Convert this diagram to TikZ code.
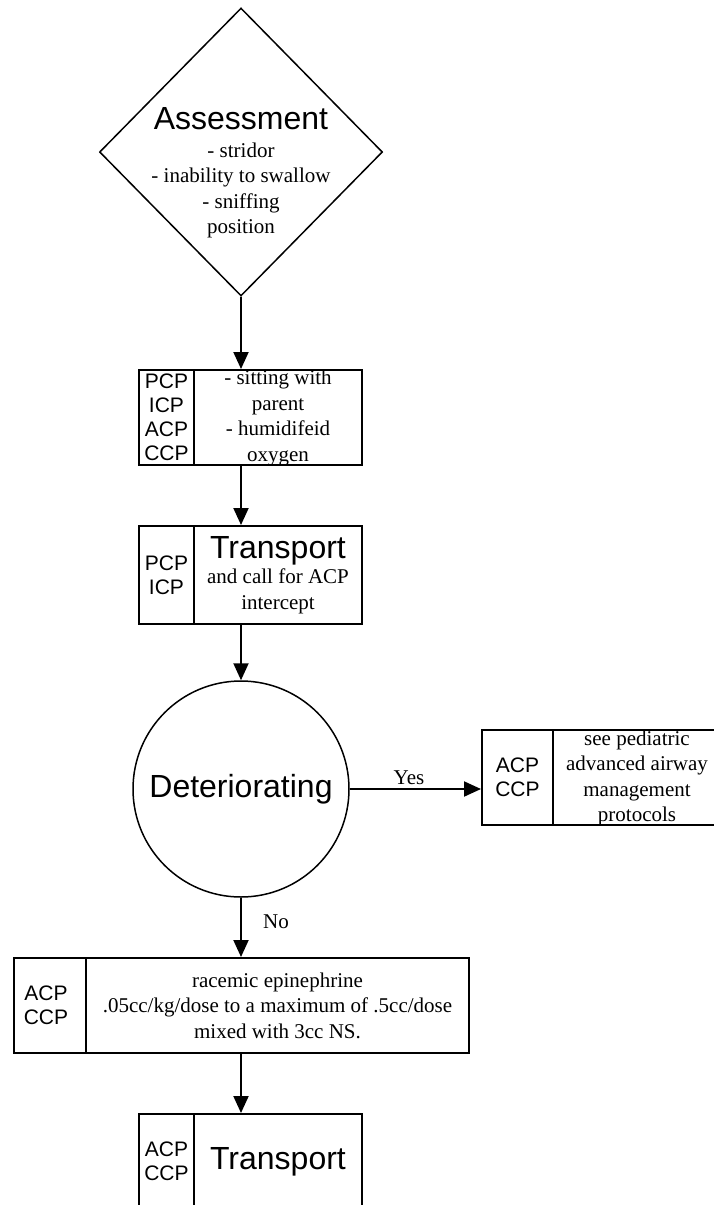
\documentclass[tikz,border=0pt]{standalone}
\usepackage{fontspec}
\setmainfont{Liberation Serif}
\setsansfont{Liberation Sans}
\usetikzlibrary{shapes.geometric,arrows.meta}
\newcommand\headfont{\sffamily\fontsize{32}{36}\selectfont}
\begin{document}
\begin{tikzpicture}[x=1pt,y=-1pt,
  body/.style={font=\fontsize{21}{25.5}\selectfont, align=center, inner sep=0pt},
  tag/.style={font=\sffamily\fontsize{21}{24}\selectfont, align=center, inner sep=0pt},
  cell/.style={draw, line width=2pt, inner sep=0pt, anchor=north west},
  flow/.style={line width=2pt, -{Triangle[length=17pt,width=15pt]}},
]
\useasboundingbox (0,0) rectangle (713,1205);

% assessment diamond
\node[draw, diamond, line width=1.5pt, minimum width=283pt, minimum height=288pt, inner sep=0pt] (assess) at (241,152) {};
\node[body] (assesstxt) at (241,172.8)
  {{\headfont Assessment}\\[2.5pt]- stridor\\- inability to swallow\\- sniffing\\position};

% first care box
\node[cell, minimum width=55pt, minimum height=95pt] (b1l) at (138,369) {};
\node[cell, minimum width=168pt, minimum height=95pt] (b1r) at (193,369) {};
\node[tag] (b1ltxt) at (b1l.center) {PCP\\ICP\\ACP\\CCP};
\node[body] (b1rtxt) at ([yshift=-0.5pt]b1r.center) {- sitting with\\parent\\- humidifeid\\oxygen};

% transport with intercept
\node[cell, minimum width=55pt, minimum height=98pt] (b2l) at (138,525) {};
\node[cell, minimum width=168pt, minimum height=98pt] (b2r) at (193,525) {};
\node[tag] (b2ltxt) at (b2l.center) {PCP\\ICP};
\node[body] (b2rtxt) at (b2r.center) {{\headfont Transport}\\and call for ACP\\intercept};

% decision
\node[draw, circle, line width=1.5pt, minimum size=216pt, inner sep=0pt, font=\headfont] (det) at (241,789) {Deteriorating};

% advanced airway box
\node[cell, minimum width=71pt, minimum height=95pt] (rbl) at (481,729) {};
\node[cell, minimum width=168pt, minimum height=95pt] (rbr) at (552,729) {};
\node[tag] (rbltxt) at (rbl.center) {ACP\\CCP};
\node[body] (rbrtxt) at ([yshift=-1pt]rbr.center) {see pediatric\\advanced airway\\management\\protocols};

% racemic epinephrine box
\node[cell, minimum width=72pt, minimum height=95pt] (b3l) at (13,957) {};
\node[cell, minimum width=383pt, minimum height=95pt] (b3r) at (85,957) {};
\node[tag] (b3ltxt) at ([xshift=-4pt]b3l.center) {ACP\\CCP};
\node[body] (b3rtxt) at (b3r.center) {racemic epinephrine\\.05cc/kg/dose to a maximum of .5cc/dose\\mixed with 3cc NS.};

% final transport box
\node[cell, minimum width=55pt, minimum height=95pt] (b4l) at (138,1113) {};
\node[cell, minimum width=168pt, minimum height=95pt] (b4r) at (193,1113) {};
\node[tag] (b4ltxt) at (b4l.center) {ACP\\CCP};
\node[font=\headfont, inner sep=0pt] (b4rtxt) at (b4r.center) {Transport};

% connectors
\draw[flow] (assess.south) -- (assess.south |- b1r.north);
\draw[flow] (assess.south |- b1r.south) -- (assess.south |- b2r.north);
\draw[flow] (assess.south |- b2r.south) -- (det.north);
\draw[flow] (det.east) -- (det.east -| rbl.west);
\draw[flow] (det.south) -- (det.south |- b3r.north);
\draw[flow] (det.south |- b3r.south) -- (det.south |- b4r.north);

% branch labels
\node[body, anchor=base] (yes) at (409,784) {Yes};
\node[body, anchor=base] (no) at (276,928) {No};
\end{tikzpicture}
\end{document}
